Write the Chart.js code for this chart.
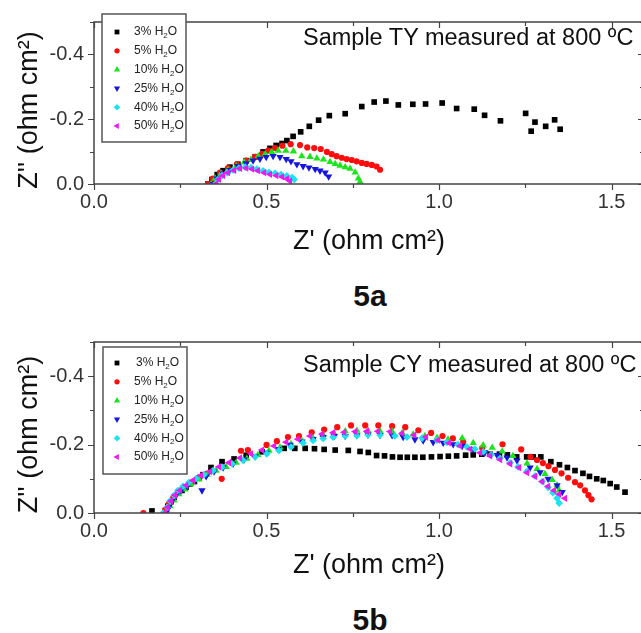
<!DOCTYPE html>
<html>
<head>
<meta charset="utf-8">
<title>Nyquist plots 5a / 5b</title>
<script src="https://cdn.jsdelivr.net/npm/chart.js"></script>
<style>
  body { margin:0; background:#fff; width:641px; height:633px; overflow:hidden; position:relative; font-family:Arial,"Liberation Sans",sans-serif; }
  .panel { position:absolute; left:0; width:650px; height:275px; }
  .panel canvas { display:block; }
  .cap { position:absolute; left:303px; font-size:23.5px; line-height:24px; color:#111; white-space:nowrap; }
  .fig { position:absolute; left:330px; width:80px; text-align:center; font-size:30px; line-height:30px; font-weight:bold; color:#111; }
</style>
</head>
<body>
<div class="panel" style="top:0"><canvas id="chartA" width="650" height="275"></canvas></div>
<div class="cap" style="top:25px">Sample TY measured at 800 ºC</div>
<div class="fig" style="top:281px">5a</div>

<div class="panel" style="top:320px"><canvas id="chartB" width="650" height="275"></canvas></div>
<div class="cap" style="top:352px">Sample CY measured at 800 ºC</div>
<div class="fig" style="top:605px">5b</div>

<script>
// water content of each series
const waterLevels = ['3%', '5%', '10%', '25%', '40%', '50%'];

// axis ticks (all ticks, and the ones that get a label)
const xTicks = [0, 0.25, 0.5, 0.75, 1.0, 1.25, 1.5];
const xLabelTicks = [0, 0.5, 1.0, 1.5];
const yTicks = [0, -0.1, -0.2, -0.3, -0.4, -0.5];
const yLabelTicks = [0, -0.2, -0.4];
const xMax = 1.594;

// ---- 5a : sample TY ----
const tyRe3 = [0.330,0.342,0.357,0.374,0.394,0.417,0.441,0.467,0.490,0.510,0.528,0.545,0.559,0.577,0.599,0.624,0.651,0.682,0.728,0.776,0.812,0.846,0.882,0.924,0.961,1.009,1.051,1.102,1.132,1.178,1.251,1.278,1.267,1.309,1.335,1.351];
const tyIm3 = [0,-0.014,-0.029,-0.041,-0.052,-0.061,-0.072,-0.084,-0.099,-0.110,-0.119,-0.125,-0.134,-0.147,-0.161,-0.178,-0.197,-0.211,-0.217,-0.239,-0.253,-0.256,-0.244,-0.246,-0.247,-0.250,-0.233,-0.231,-0.212,-0.195,-0.218,-0.191,-0.163,-0.178,-0.198,-0.169];

const tyRe5 = [0.330,0.345,0.365,0.388,0.414,0.441,0.467,0.487,0.505,0.525,0.546,0.570,0.597,0.618,0.638,0.657,0.675,0.689,0.703,0.718,0.732,0.747,0.761,0.776,0.790,0.805,0.819,0.829];
const tyIm5 = [0,-0.017,-0.035,-0.049,-0.061,-0.072,-0.084,-0.093,-0.103,-0.111,-0.118,-0.123,-0.120,-0.113,-0.111,-0.108,-0.099,-0.092,-0.086,-0.081,-0.077,-0.074,-0.070,-0.065,-0.062,-0.059,-0.054,-0.044];

const tyRe10 = [0.339,0.351,0.368,0.388,0.412,0.435,0.455,0.476,0.496,0.515,0.534,0.556,0.578,0.602,0.626,0.646,0.665,0.684,0.699,0.713,0.728,0.742,0.757,0.766,0.771];
const tyIm10 = [0,-0.017,-0.032,-0.043,-0.055,-0.067,-0.075,-0.086,-0.092,-0.099,-0.103,-0.103,-0.101,-0.086,-0.084,-0.079,-0.076,-0.068,-0.062,-0.057,-0.052,-0.047,-0.036,-0.017,-0.007];

const tyRe25 = [0.345,0.357,0.374,0.394,0.417,0.441,0.461,0.481,0.499,0.519,0.539,0.557,0.571,0.588,0.606,0.623,0.641,0.655,0.670,0.680];
const tyIm25 = [0,-0.017,-0.032,-0.043,-0.055,-0.064,-0.072,-0.078,-0.083,-0.086,-0.083,-0.077,-0.070,-0.061,-0.055,-0.051,-0.046,-0.041,-0.035,-0.023];

const tyRe40 = [0.351,0.359,0.371,0.386,0.403,0.420,0.438,0.455,0.472,0.490,0.507,0.525,0.542,0.559,0.574,0.580];
const tyIm40 = [0,-0.014,-0.026,-0.035,-0.043,-0.049,-0.052,-0.051,-0.046,-0.041,-0.036,-0.033,-0.029,-0.025,-0.020,-0.014];

const tyRe50 = [0.354,0.362,0.374,0.388,0.406,0.423,0.441,0.458,0.475,0.493,0.510,0.528,0.545,0.559,0.568];
const tyIm50 = [0,-0.014,-0.026,-0.035,-0.042,-0.048,-0.049,-0.046,-0.041,-0.035,-0.030,-0.026,-0.022,-0.016,-0.009];

// ---- 5b : sample CY ----
const cyRe3 = [0.168,0.214,0.223,0.232,0.243,0.255,0.267,0.278,0.291,0.304,0.316,0.339,0.371,0.406,0.441,0.487,0.551,0.582,0.612,0.639,0.667,0.699,0.737,0.771,0.795,0.819,0.842,0.865,0.887,0.908,0.930,0.953,0.978,1.003,1.027,1.051,1.077,1.099,1.124,1.148,1.175,1.198,1.225,1.254,1.273,1.295,1.324,1.349,1.372,1.394,1.417,1.436,1.457,1.476,1.496,1.515,1.539];
const cyIm3 = [-0.006,-0.020,-0.033,-0.046,-0.058,-0.066,-0.076,-0.085,-0.092,-0.102,-0.112,-0.133,-0.150,-0.158,-0.169,-0.179,-0.189,-0.189,-0.189,-0.188,-0.186,-0.184,-0.183,-0.180,-0.177,-0.168,-0.167,-0.164,-0.163,-0.163,-0.163,-0.163,-0.164,-0.165,-0.166,-0.167,-0.169,-0.170,-0.172,-0.172,-0.172,-0.170,-0.164,-0.164,-0.164,-0.164,-0.150,-0.141,-0.133,-0.124,-0.116,-0.107,-0.100,-0.095,-0.086,-0.076,-0.061];

const cyRe5 = [0.143,0.206,0.217,0.229,0.243,0.261,0.281,0.304,0.328,0.370,0.426,0.446,0.500,0.530,0.562,0.594,0.631,0.667,0.705,0.745,0.786,0.824,0.864,0.902,0.940,0.977,1.010,1.040,1.070,1.125,1.184,1.238,1.265,1.284,1.301,1.317,1.336,1.355,1.374,1.394,1.409,1.423,1.433,1.442];
const cyIm5 = [0,-0.009,-0.026,-0.043,-0.061,-0.075,-0.089,-0.104,-0.115,-0.100,-0.182,-0.184,-0.199,-0.210,-0.222,-0.225,-0.236,-0.244,-0.251,-0.256,-0.256,-0.256,-0.254,-0.251,-0.242,-0.234,-0.225,-0.218,-0.208,-0.190,-0.201,-0.186,-0.164,-0.155,-0.146,-0.137,-0.126,-0.116,-0.103,-0.090,-0.081,-0.066,-0.052,-0.040];

const cyRe10 = [0.209,0.220,0.232,0.246,0.264,0.281,0.304,0.328,0.354,0.383,0.412,0.443,0.475,0.507,0.539,0.571,0.603,0.635,0.664,0.696,0.728,0.762,0.794,0.829,0.864,0.893,0.925,0.959,0.994,1.026,1.067,1.099,1.128,1.154,1.183,1.214,1.255,1.284,1.307,1.328,1.342,1.348];
const cyIm10 = [0,-0.020,-0.037,-0.055,-0.069,-0.084,-0.098,-0.112,-0.124,-0.135,-0.147,-0.159,-0.170,-0.182,-0.192,-0.202,-0.210,-0.219,-0.228,-0.233,-0.239,-0.241,-0.241,-0.239,-0.239,-0.234,-0.230,-0.225,-0.220,-0.215,-0.219,-0.205,-0.198,-0.191,-0.180,-0.167,-0.145,-0.129,-0.114,-0.097,-0.081,-0.066];

const cyRe25 = [0.209,0.217,0.226,0.238,0.252,0.270,0.313,0.325,0.348,0.374,0.403,0.435,0.467,0.499,0.533,0.568,0.603,0.635,0.664,0.696,0.728,0.762,0.794,0.829,0.864,0.896,0.930,0.954,0.983,1.012,1.041,1.067,1.099,1.133,1.168,1.197,1.226,1.264,1.293,1.316,1.342,1.357];
const cyIm25 = [0,-0.017,-0.035,-0.052,-0.066,-0.078,-0.066,-0.107,-0.121,-0.133,-0.144,-0.156,-0.166,-0.176,-0.187,-0.199,-0.209,-0.216,-0.222,-0.225,-0.225,-0.227,-0.229,-0.228,-0.227,-0.222,-0.215,-0.212,-0.207,-0.205,-0.201,-0.196,-0.186,-0.177,-0.169,-0.162,-0.153,-0.133,-0.119,-0.100,-0.081,-0.061];

const cyRe40 = [0.200,0.212,0.220,0.232,0.243,0.258,0.275,0.296,0.319,0.345,0.371,0.400,0.432,0.467,0.501,0.536,0.571,0.606,0.635,0.664,0.693,0.728,0.762,0.794,0.829,0.872,0.907,0.951,0.994,1.023,1.055,1.081,1.104,1.128,1.151,1.177,1.206,1.229,1.255,1.278,1.299,1.316,1.330,1.342,1.348];
const cyIm40 = [0,-0.017,-0.035,-0.052,-0.066,-0.078,-0.089,-0.101,-0.112,-0.124,-0.134,-0.144,-0.154,-0.164,-0.173,-0.183,-0.193,-0.205,-0.212,-0.218,-0.222,-0.225,-0.226,-0.228,-0.228,-0.225,-0.222,-0.219,-0.213,-0.206,-0.200,-0.193,-0.187,-0.179,-0.170,-0.160,-0.147,-0.135,-0.122,-0.108,-0.092,-0.075,-0.059,-0.043,-0.029];

const cyRe50 = [0.206,0.214,0.223,0.235,0.249,0.267,0.287,0.310,0.336,0.362,0.391,0.423,0.455,0.487,0.522,0.557,0.591,0.626,0.661,0.693,0.725,0.757,0.791,0.823,0.858,0.893,0.928,0.962,0.997,1.029,1.061,1.090,1.119,1.148,1.177,1.206,1.232,1.255,1.278,1.299,1.316,1.333,1.348,1.365];
const cyIm50 = [0,-0.017,-0.035,-0.052,-0.066,-0.081,-0.095,-0.110,-0.121,-0.135,-0.147,-0.161,-0.173,-0.184,-0.196,-0.207,-0.216,-0.225,-0.231,-0.235,-0.236,-0.238,-0.239,-0.239,-0.238,-0.233,-0.228,-0.222,-0.213,-0.205,-0.196,-0.187,-0.176,-0.167,-0.156,-0.144,-0.133,-0.118,-0.107,-0.092,-0.078,-0.066,-0.055,-0.043];

// marker look for each water level (Origin default order)
const markers = [
  { color: '#000000', style: 'rect',     rotation: 0,   radius: 4.0 },
  { color: '#ff0d0d', style: 'circle',   rotation: 0,   radius: 3.1 },
  { color: '#19e619', style: 'triangle', rotation: 0,   radius: 4.2 },
  { color: '#1515e0', style: 'triangle', rotation: 180, radius: 4.2 },
  { color: '#19e3ef', style: 'rectRot',  rotation: 0,   radius: 3.8 },
  { color: '#ee19ee', style: 'triangle', rotation: 270, radius: 4.2 }
];

function makeSets(res, ims) {
  return res.map((re, i) => ({
    label: waterLevels[i] + ' H₂O',
    data: re.map((v, k) => ({ x: v, y: ims[i][k] })),
    pointStyle: markers[i].style,
    rotation: markers[i].rotation,
    pointRadius: markers[i].radius,
    backgroundColor: markers[i].color,
    borderColor: markers[i].color,
    borderWidth: 0,
    showLine: false,
    order: 6 - i
  }));
}

// box + inward/outward ticks like the Origin frame, plus the Z'' title
const framePlugin = {
  id: 'frame',
  afterDraw(chart, args, o) {
    const { ctx, chartArea: a, scales: { x, y } } = chart;
    ctx.save();
    ctx.strokeStyle = '#444';
    ctx.lineWidth = 1.5;
    ctx.strokeRect(a.left, a.top, a.right - a.left, a.bottom - a.top);
    ctx.beginPath();
    xTicks.forEach(v => {
      const px = Math.round(x.getPixelForValue(v)) + 0.5;
      const len = xLabelTicks.includes(v) ? 6 : 4;
      ctx.moveTo(px, a.bottom); ctx.lineTo(px, a.bottom + len);
      ctx.moveTo(px, a.top); ctx.lineTo(px, a.top + len);
    });
    yTicks.forEach(v => {
      const py = Math.round(y.getPixelForValue(v)) + 0.5;
      const len = yLabelTicks.includes(v) ? 6 : 4;
      ctx.moveTo(a.left, py); ctx.lineTo(a.left - len, py);
      ctx.moveTo(a.right, py); ctx.lineTo(a.right - len, py);
    });
    ctx.lineWidth = 1.2;
    ctx.stroke();

    ctx.translate(o.titleX, (a.top + a.bottom) / 2 + o.titleShift);
    ctx.rotate(-Math.PI / 2);
    ctx.fillStyle = '#111';
    ctx.font = '27px Arial, "Liberation Sans", sans-serif';
    ctx.textAlign = 'center';
    ctx.textBaseline = 'middle';
    ctx.fillText("Z'' (ohm cm²)", 0, 0);
    ctx.restore();
  }
};

// legend in a box inside the plot, with subscript 2
const boxLegend = {
  id: 'boxLegend',
  afterDraw(chart, args, o) {
    const { ctx } = chart;
    ctx.save();
    ctx.fillStyle = '#fff';
    ctx.fillRect(o.x, o.y, o.w, o.h);
    ctx.strokeStyle = '#555';
    ctx.lineWidth = 1.5;
    ctx.strokeRect(o.x, o.y, o.w, o.h);
    ctx.textBaseline = 'middle';
    waterLevels.forEach((lvl, i) => {
      const cy = o.firstRow + i * o.rowGap;
      ctx.fillStyle = markers[i].color;
      Chart.helpers.drawPoint(ctx, { pointStyle: markers[i].style, rotation: markers[i].rotation, radius: markers[i].radius * 0.85, borderWidth: 0 }, o.markX, cy);
      ctx.fillStyle = '#222';
      let tx = o.textX + (o.indentFirst && i === 0 ? 2 : 0);
      const head = lvl + ' H';
      ctx.font = '12px Arial, "Liberation Sans", sans-serif';
      ctx.fillText(head, tx, cy);
      tx += ctx.measureText(head).width;
      ctx.font = '8px Arial, "Liberation Sans", sans-serif';
      ctx.fillText('2', tx, cy + 4);
      tx += ctx.measureText('2').width;
      ctx.font = '12px Arial, "Liberation Sans", sans-serif';
      ctx.fillText('O', tx, cy);
    });
    ctx.restore();
  }
};

Chart.defaults.font.family = 'Arial, "Liberation Sans", sans-serif';

function makeChart(id, res, ims, lay) {
  return new Chart(document.getElementById(id), {
    type: 'scatter',
    data: { datasets: makeSets(res, ims) },
    plugins: [framePlugin, boxLegend],
    options: {
      responsive: false,
      animation: false,
      devicePixelRatio: 1,
      events: [],
      layout: { padding: { top: lay.top, right: 6, left: 0, bottom: 0 } },
      plugins: {
        legend: { display: false },
        tooltip: { enabled: false },
        frame: { titleX: 30, titleShift: 7 },
        boxLegend: lay.legend
      },
      scales: {
        x: {
          type: 'linear', min: 0, max: xMax,
          afterFit(s) { s.height = lay.xAxisH; },
          afterBuildTicks(s) { s.ticks = xTicks.map(v => ({ value: v })); },
          grid: { display: false, drawTicks: false },
          border: { display: false },
          ticks: {
            includeBounds: false, autoSkip: false, maxRotation: 0,
            padding: 6, color: '#333', font: { size: 20 },
            callback: v => xLabelTicks.includes(v) ? v.toFixed(1) : ''
          },
          title: { display: true, text: "Z' (ohm cm²)", color: '#111', font: { size: 27 }, padding: { top: 0, bottom: lay.titlePad } }
        },
        y: {
          type: 'linear', min: -0.5, max: 0, reverse: true,
          afterFit(s) { s.width = 94; },
          afterBuildTicks(s) { s.ticks = yTicks.map(v => ({ value: v })); },
          grid: { display: false, drawTicks: false },
          border: { display: false },
          ticks: {
            autoSkip: false, padding: 10, color: '#333', font: { size: 20 },
            callback: v => yLabelTicks.includes(v) ? (v === 0 ? '0.0' : v.toFixed(1)) : ''
          }
        }
      }
    }
  });
}

makeChart('chartA', [tyRe3, tyRe5, tyRe10, tyRe25, tyRe40, tyRe50], [tyIm3, tyIm5, tyIm10, tyIm25, tyIm40, tyIm50], {
  top: 13, xAxisH: 91, titlePad: 17,
  legend: { x: 102, y: 14, w: 84, h: 128, markX: 117, textX: 134, firstRow: 32, rowGap: 18.8, indentFirst: false }
});

makeChart('chartB', [cyRe3, cyRe5, cyRe10, cyRe25, cyRe40, cyRe50], [cyIm3, cyIm5, cyIm10, cyIm25, cyIm40, cyIm50], {
  top: 19, xAxisH: 82, titlePad: 13,
  legend: { x: 103, y: 27, w: 84, h: 127, markX: 117, textX: 134, firstRow: 43, rowGap: 18.8, indentFirst: true }
});
</script>
</body>
</html>
